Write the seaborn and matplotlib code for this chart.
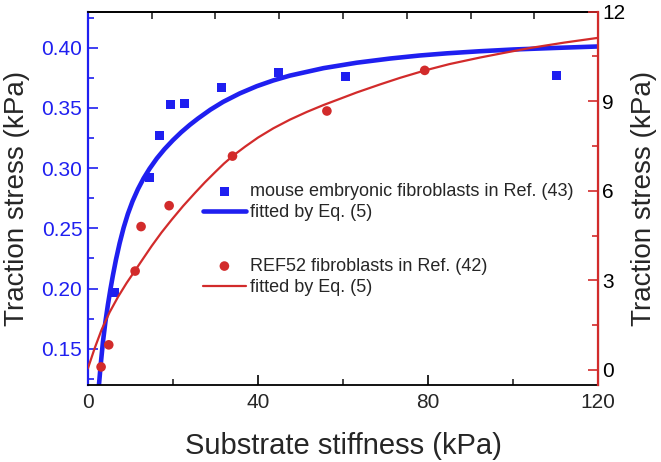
import matplotlib
matplotlib.use("Agg")
import matplotlib.pyplot as plt
import seaborn as sns
from matplotlib.ticker import MultipleLocator, NullFormatter, FormatStrFormatter

# mouse embryonic fibroblasts, Ref. (43) -> left axis (kPa)
mef_stiffness = [6.35, 14.4, 16.9, 19.5, 22.7, 31.4, 44.9, 60.6, 110.2]
mef_stress = [0.197, 0.292, 0.327, 0.353, 0.354, 0.367, 0.379, 0.376, 0.377]
# fitted curve
mef_fit_x = [2.6, 3.0, 3.53, 4.1, 4.7, 5.3, 5.88, 6.6, 7.45, 8.4, 9.4, 10.5,
             11.76, 13.1, 14.5, 16.2, 18.0, 20.0, 21.95, 24.0, 25.9, 28.8,
             31.8, 35.7, 39.7, 43.6, 47.5, 55.4, 63.2, 71.1, 78.0, 84.4,
             92.0, 100.1, 110.0, 120.0]
mef_fit_y = [0.1200, 0.1365, 0.1555, 0.1720, 0.1865, 0.1995, 0.2110, 0.2240,
             0.2375, 0.2505, 0.2620, 0.2725, 0.2825, 0.2915, 0.2995, 0.3080,
             0.3157, 0.3232, 0.3298, 0.3360, 0.3412, 0.3485, 0.3550, 0.3620,
             0.3680, 0.3728, 0.3768, 0.3830, 0.3875, 0.3910, 0.3935, 0.3953,
             0.3970, 0.3985, 0.3998, 0.4010]

# REF52 fibroblasts, Ref. (42) -> right axis (kPa)
ref52_stiffness = [3.1, 4.9, 11.1, 12.5, 19.1, 34.0, 56.2, 79.2]
ref52_stress = [0.10, 0.84, 3.31, 4.80, 5.50, 7.16, 8.67, 10.03]
ref52_fit_x = [0.0, 1.6, 3.2, 5.1, 7.1, 9.1, 11.1, 13.0, 15.0, 17.3, 19.7,
               22.4, 25.2, 27.5, 29.9, 32.0, 34.2, 37.0, 40.0, 43.6, 47.5,
               51.5, 55.4, 59.5, 63.2, 68.7, 73.4, 79.3, 85.0, 92.2, 98.0,
               104.0, 112.0, 120.0]
ref52_fit_y = [0.05, 0.73, 1.34, 1.93, 2.45, 2.91, 3.33, 3.73, 4.15, 4.60,
               5.03, 5.49, 5.93, 6.28, 6.62, 6.91, 7.18, 7.48, 7.78, 8.09,
               8.38, 8.64, 8.87, 9.09, 9.29, 9.56, 9.78, 10.03, 10.24, 10.46,
               10.62, 10.78, 10.96, 11.12]

blue = '#1f1ff0'
red = '#d22b2b'

sns.set_style("ticks")
plt.rcParams['font.family'] = ['Liberation Sans', 'DejaVu Sans']
plt.rcParams['xtick.direction'] = 'in'
plt.rcParams['ytick.direction'] = 'in'

fig, ax = plt.subplots(figsize=(6.61, 4.62), dpi=100)
fig.subplots_adjust(left=0.133, right=0.905, bottom=0.167, top=0.975)
ax2 = ax.twinx()

sns.scatterplot(x=mef_stiffness, y=mef_stress, ax=ax, marker='s', s=42,
                color=blue, edgecolor='none',
                label='mouse embryonic fibroblasts in Ref. (43)')
sns.lineplot(x=mef_fit_x, y=mef_fit_y, ax=ax, color=blue, linewidth=3.3,
             label='fitted by Eq. (5)', sort=False)
sns.scatterplot(x=ref52_stiffness, y=ref52_stress, ax=ax2, marker='o', s=48,
                color=red, edgecolor='none',
                label='REF52 fibroblasts in Ref. (42)')
sns.lineplot(x=ref52_fit_x, y=ref52_fit_y, ax=ax2, color=red, linewidth=1.6,
             label='fitted by Eq. (5)', sort=False)

# axes limits and ticks
ax.set_xlim(0, 120)
ax.set_ylim(0.12, 0.43)
ax2.set_ylim(-0.5, 12)
ax.xaxis.set_major_locator(MultipleLocator(40))
ax.xaxis.set_minor_locator(MultipleLocator(20))
ax.yaxis.set_major_locator(MultipleLocator(0.05))
ax.yaxis.set_minor_locator(MultipleLocator(0.025))
ax.yaxis.set_major_formatter(FormatStrFormatter('%.2f'))
ax2.yaxis.set_major_locator(MultipleLocator(3))
ax2.yaxis.set_minor_locator(MultipleLocator(1.5))

ax.tick_params(axis='x', which='major', length=7, width=1.2, labelsize=15, pad=6, color='black')
ax.tick_params(axis='x', which='minor', length=4, width=1.2)
ax.tick_params(axis='y', which='major', length=7, width=1.2, labelsize=15, pad=4,
               color=blue, labelcolor=blue)
ax.tick_params(axis='y', which='minor', length=4, width=1.2, color=blue)
ax2.tick_params(axis='y', which='major', length=7, width=1.2, labelsize=15, pad=3,
                color=red, labelcolor='black')
ax2.tick_params(axis='y', which='minor', length=4, width=1.2, color=red)

# top axis ticks (no labels)
top = ax.secondary_xaxis('top')
top.xaxis.set_major_locator(MultipleLocator(15))
top.xaxis.set_major_formatter(NullFormatter())
top.tick_params(axis='x', direction='in', length=5, width=1.2)

for sp in ['top', 'bottom']:
    ax.spines[sp].set_linewidth(1.3)
    ax.spines[sp].set_color('black')
top.spines['top'].set_linewidth(1.3)
ax.spines['left'].set_color(blue)
ax.spines['left'].set_linewidth(1.6)
ax2.spines['right'].set_color(red)
ax2.spines['right'].set_linewidth(1.6)
ax2.spines['left'].set_visible(False)
ax2.spines['top'].set_visible(False)
ax2.spines['bottom'].set_visible(False)

ax.set_xlabel('Substrate stiffness (kPa)', fontsize=21, labelpad=14)
ax.set_ylabel('Traction stress (kPa)', fontsize=20, labelpad=8)
ax2.set_ylabel('Traction stress (kPa)', fontsize=20, labelpad=4)

# legends: two groups with a gap between
h1, l1 = ax.get_legend_handles_labels()
h2, l2 = ax2.get_legend_handles_labels()
ax.get_legend().remove()
ax2.get_legend().remove()
leg_kw = dict(frameon=False, fontsize=13, handlelength=2.4, handletextpad=0.2,
              labelspacing=0.24, borderpad=0, borderaxespad=0, loc='center left')
leg1 = ax2.legend(h1, l1, bbox_to_anchor=(0.225, 0.490), **leg_kw)
ax2.add_artist(leg1)
ax2.legend(h2, l2, bbox_to_anchor=(0.225, 0.289), **leg_kw)

fig.savefig('out.png', dpi=100)
